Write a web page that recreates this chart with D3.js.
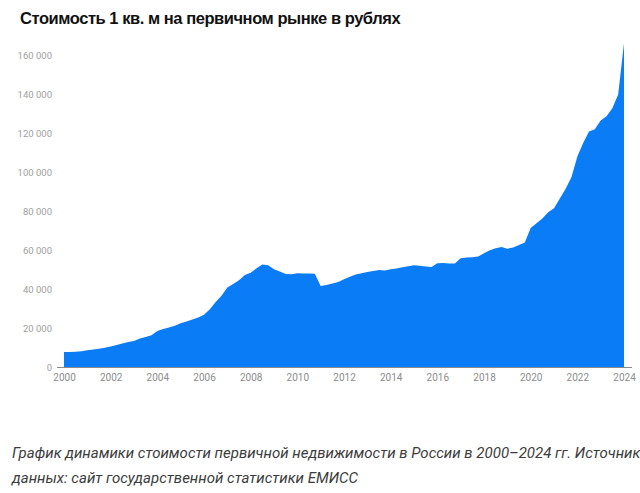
<!DOCTYPE html>
<html lang="ru">
<head>
<meta charset="utf-8">
<script src="https://cdn.jsdelivr.net/npm/d3@7"></script>
<style>
  html, body { margin: 0; padding: 0; background: #fff; overflow: hidden; }
  svg { display: block; }
</style>
</head>
<body>
<div id="chart"></div>
<script>
// Chart title and caption
const title = 'Стоимость 1 кв. м на первичном рынке в рублях';
const captionLines = [
  'График динамики стоимости первичной недвижимости в России в 2000–2024 гг. Источник',
  'данных: сайт государственной статистики ЕМИСС'
];

// Quarterly price per sq. m, rubles (Q1 2000 ... Q1 2024)
const startYear = 2000;
const prices = [
  7900, 8000, 8100, 8300,       // 2000
  8800, 9200, 9600, 10100,      // 2001
  10800, 11500, 12300, 13000,   // 2002
  13600, 14800, 15600, 16500,   // 2003
  18700, 19700, 20500, 21400,   // 2004
  22700, 23600, 24600, 25600,   // 2005
  27000, 29800, 33500, 36800,   // 2006
  41000, 42800, 44700, 47300,   // 2007
  48500, 50800, 52700, 52400,   // 2008
  50300, 49200, 47900, 47700,   // 2009
  48300, 48100, 48100, 48000,   // 2010
  41700, 42300, 43000, 43800,   // 2011
  45200, 46500, 47600, 48300,   // 2012
  48900, 49400, 49900, 49700,   // 2013
  50300, 50700, 51300, 51900,   // 2014
  52400, 52100, 51700, 51500,   // 2015
  53400, 53500, 53300, 53200,   // 2016
  56000, 56300, 56400, 56800,   // 2017
  58500, 60000, 61000, 61700,   // 2018
  60800, 61500, 62700, 64000,   // 2019
  71400, 73800, 76300, 79500,   // 2020
  81500, 86500, 91500, 97500,   // 2021
  108000, 115000, 120800, 122000, // 2022
  126500, 128600, 132800, 139800, // 2023
  166000                         // 2024
];

// Axis ticks
const xTicks = [2000, 2002, 2004, 2006, 2008, 2010, 2012, 2014, 2016, 2018, 2020, 2022, 2024];
const yTicks = [0, 20000, 40000, 60000, 80000, 100000, 120000, 140000, 160000];

function renderPriceChart(container) {
  const width = 640;
  const height = 493;
  const margin = { top: 55, right: 16, bottom: 125.5, left: 64 };

  const svg = d3.select(container)
    .append('svg')
    .attr('width', width)
    .attr('height', height);

  // Title
  svg.append('text')
    .attr('x', 20)
    .attr('y', 24)
    .attr('font-family', '"Liberation Sans", Arial, sans-serif')
    .attr('font-size', 16.5)
    .attr('font-weight', 'bold')
    .attr('letter-spacing', -0.45)
    .attr('fill', '#111')
    .text(title);

  // Scales
  const x = d3.scaleLinear()
    .domain([2000, 2024])
    .range([margin.left, width - margin.right]);

  const y = d3.scaleLinear()
    .domain([0, 160000])
    .range([height - margin.bottom, margin.top]);

  const data = prices.map((v, i) => ({ t: startYear + i / 4, v }));

  // Area
  const area = d3.area()
    .x(d => x(d.t))
    .y0(y(0))
    .y1(d => y(d.v));

  svg.append('path')
    .datum(data)
    .attr('d', area)
    .attr('fill', '#0a7cf5');

  // Baseline
  svg.append('line')
    .attr('x1', x(2000) - 7)
    .attr('x2', x(2024) + 8)
    .attr('y1', y(0))
    .attr('y2', y(0))
    .attr('stroke', '#8a8a8a')
    .attr('stroke-width', 1);

  // X axis
  const xAxis = svg.append('g')
    .attr('transform', `translate(0,${y(0)})`)
    .call(d3.axisBottom(x)
      .tickValues(xTicks)
      .tickSize(0)
      .tickPadding(6)
      .tickFormat(d3.format('d')));

  xAxis.select('.domain').remove();
  xAxis.selectAll('text')
    .attr('font-family', 'Roboto, sans-serif')
    .attr('font-size', 10)
    .attr('fill', '#8c8c8c');

  // Y axis
  const ruLocale = d3.formatLocale({ decimal: ',', thousands: ' ', grouping: [3], currency: ['', ' ₽'] });
  const yAxis = svg.append('g')
    .attr('transform', `translate(${x(2000) - 8},0)`)
    .call(d3.axisLeft(y)
      .tickValues(yTicks)
      .tickSize(0)
      .tickPadding(4)
      .tickFormat(ruLocale.format(',')));

  yAxis.select('.domain').remove();
  yAxis.selectAll('text')
    .attr('font-family', 'Roboto, sans-serif')
    .attr('font-size', 9.5)
    .attr('fill', '#a0a0a0');

  // Caption
  const caption = svg.append('text')
    .attr('font-family', 'Roboto, sans-serif')
    .attr('font-style', 'italic')
    .attr('font-size', 15)
    .attr('fill', '#3c3c3c');

  caption.selectAll('tspan')
    .data(captionLines)
    .enter()
    .append('tspan')
    .attr('x', 12)
    .attr('y', (d, i) => 458 + i * 24.5)
    .text(d => d);
}

renderPriceChart(document.getElementById('chart'));
</script>
</body>
</html>
